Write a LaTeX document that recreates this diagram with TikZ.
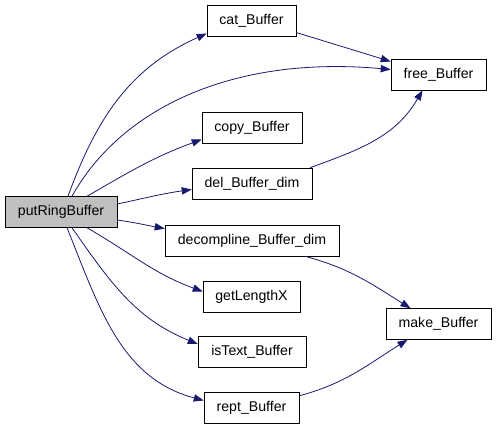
\documentclass[tikz,border=0pt]{standalone}
\usepackage{fontspec}
\setmainfont{Liberation Sans}
\usetikzlibrary{arrows.meta,calc}
\definecolor{edgeblue}{HTML}{191970}
\definecolor{rootgray}{HTML}{BFBFBF}

\begin{document}
\begin{tikzpicture}[
  x=0.75pt, y=-0.75pt,
  fn/.style={draw=black, fill=white, inner sep=0pt, minimum height=31*0.75pt,
    font=\fontsize{10.6}{12}\selectfont},
  root/.style={fn, fill=rootgray},
  call/.style={edgeblue, semithick, -{Triangle[length=7.5pt, width=5.5pt]}}
]
\useasboundingbox (0,0) rectangle (496,429);

\node [root, minimum width=112*0.75pt] (put) at (61,212) {putRingBuffer};
\node [fn, minimum width=89*0.75pt] (cat) at (251.5,20.5) {cat\_Buffer};
\node [fn, minimum width=95*0.75pt] (free) at (438.5,74.5) {free\_Buffer};
\node [fn, minimum width=100*0.75pt] (copy) at (252,127.5) {copy\_Buffer};
\node [fn, minimum width=120*0.75pt] (del) at (252,183.5) {del\_Buffer\_dim};
\node [fn, minimum width=174*0.75pt] (decomp) at (252,240.5) {decompline\_Buffer\_dim};
\node [fn, minimum width=97*0.75pt] (getlen) at (251.5,296.5) {getLengthX};
\node [fn, minimum width=105*0.75pt] (make) at (438.5,324) {make\_Buffer};
\node [fn, minimum width=108*0.75pt] (istext) at (252,352) {isText\_Buffer};
\node [fn, minimum width=95*0.75pt] (rept) at (251.5,407.5) {rept\_Buffer};

% calls from putRingBuffer
\draw [call] ($(put.north)+(7,0)$) to [out=70, in=204] ($(cat.west)+(0,13)$);
\draw [call] ($(put.north)+(11,0)$) .. controls (120,110) and (230,55) .. ($(free.west)+(0,-5)$);
\draw [call] ($(put.north)+(26,0)$) to [out=30, in=200] ($(copy.west)+(0,12)$);
\draw [call] ($(put.east)+(0,-8)$) to [out=12, in=188] ($(del.west)+(0,6)$);
\draw [call] ($(put.east)+(0,8)$) to [out=-8, in=170] ($(decomp.west)+(0,-12)$);
\draw [call] ($(put.south)+(26,0)$) to [out=-30, in=160] ($(getlen.west)+(0,-5)$);
\draw [call] ($(put.south)+(11,0)$) to [out=-55, in=158] ($(istext.west)+(0,-8)$);
\draw [call] ($(put.south)+(6,0)$) to [out=-68, in=165] ($(rept.west)+(0,-7)$);

% second level
\draw [call] ($(cat.east)+(0,12)$) -- ($(free.west)+(0,-13)$);
\draw [call] ($(del.north)+(58,0)$) to [out=20, in=-120] ($(free.south)+(-16,0)$);
\draw [call] ($(decomp.south)+(53,0)$) to [out=-15, in=148] ($(make.north)+(-28,0)$);
\draw [call] ($(rept.north)+(48,4)$) to [out=15, in=-148] ($(make.south)+(-31,0)$);
\end{tikzpicture}
\end{document}
